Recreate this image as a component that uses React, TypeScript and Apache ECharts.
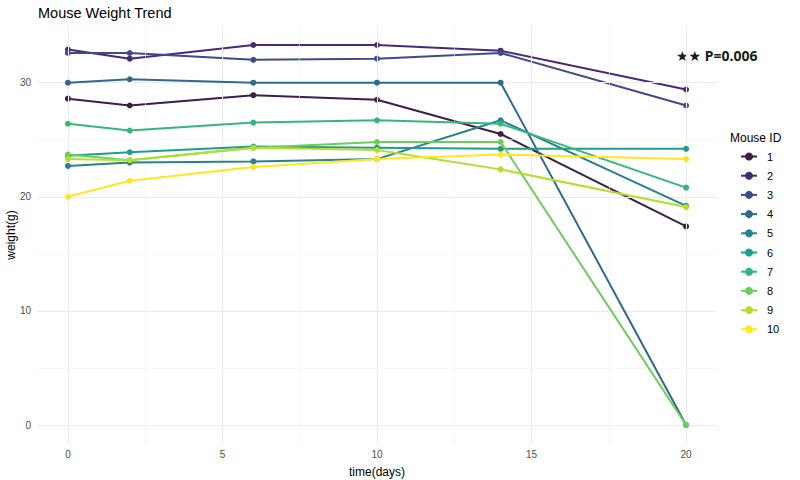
import React, { useEffect, useRef } from "react";
import * as echarts from "echarts";

// Measurement days
const days = [0, 2, 6, 10, 14, 20];

// Body weight (g) per mouse at each measurement day
const mouse1 = [28.6, 28.0, 28.9, 28.5, 25.5, 17.4];
const mouse2 = [32.9, 32.1, 33.3, 33.3, 32.8, 29.4];
const mouse3 = [32.6, 32.6, 32.0, 32.1, 32.6, 28.0];
const mouse4 = [30.0, 30.3, 30.0, 30.0, 30.0, 0];
const mouse5 = [22.7, 23.0, 23.1, 23.3, 26.7, 19.2];
const mouse6 = [23.6, 23.9, 24.4, 24.3, 24.2, 24.2];
const mouse7 = [26.4, 25.8, 26.5, 26.7, 26.4, 20.8];
const mouse8 = [23.7, 23.2, 24.3, 24.8, 24.8, 0];
const mouse9 = [23.3, 23.2, 24.3, 24.1, 22.4, 19.1];
const mouse10 = [20.0, 21.4, 22.6, 23.3, 23.7, 23.3];

const mouseIds = ["1", "2", "3", "4", "5", "6", "7", "8", "9", "10"];
const weights = [mouse1, mouse2, mouse3, mouse4, mouse5, mouse6, mouse7, mouse8, mouse9, mouse10];

const palette = [
  "#3b1f47", "#482878", "#3E4A89", "#31688E", "#26828E",
  "#1F9E89", "#35B779", "#6DCD59", "#B4DE2C", "#FDE725",
];

const xTicks = [0, 5, 10, 15, 20];
const xMinor = [2.5, 7.5, 12.5, 17.5];
const yTicks = [0, 10, 20, 30];
const yMinor = [5, 15, 25];

const FONT = "'Liberation Sans', Arial, Helvetica, sans-serif";

export default function App() {
  const ref = useRef<HTMLDivElement>(null);

  useEffect(() => {
    if (!ref.current) return;
    const chart = echarts.init(ref.current, undefined, { renderer: "svg" });

    const gridLine = (color: string, width: number, data: any[]) => ({
      type: "line",
      data: [],
      silent: true,
      z: 0,
      markLine: {
        silent: true,
        symbol: "none",
        animation: false,
        label: { show: false },
        lineStyle: { color, width, type: "solid" },
        data,
      },
    });

    const series: any[] = [
      gridLine("#EBEBEB", 1.1, [...xTicks.map((v) => ({ xAxis: v })), ...yTicks.map((v) => ({ yAxis: v }))]),
      gridLine("#F2F2F2", 0.6, [...xMinor.map((v) => ({ xAxis: v })), ...yMinor.map((v) => ({ yAxis: v }))]),
    ];

    mouseIds.forEach((id, i) => {
      series.push({
        name: id,
        type: "line",
        data: days.map((d, j) => [d, weights[i][j]]),
        symbol: "circle",
        symbolSize: 6,
        showSymbol: true,
        lineStyle: { width: 2, color: palette[i] },
        itemStyle: { color: palette[i] },
        z: 2 + i,
      });
    });

    chart.setOption({
      animation: false,
      backgroundColor: "#ffffff",
      textStyle: { fontFamily: FONT },
      title: {
        text: "Mouse Weight Trend",
        left: 33,
        top: 0,
        textStyle: { fontFamily: FONT, fontSize: 14.5, fontWeight: "normal", color: "#000" },
      },
      grid: { left: 37, right: 83, top: 26, bottom: 36, containLabel: false, outerBoundsMode: "none" },
      xAxis: {
        type: "value",
        min: -1,
        max: 21,
        name: "time(days)",
        nameLocation: "middle",
        nameGap: 22,
        nameMoveOverlap: false,
        nameTextStyle: { fontFamily: FONT, fontSize: 12, color: "#000" },
        axisLine: { show: false },
        axisTick: { show: false },
        splitLine: { show: false },
        axisLabel: {
          customValues: xTicks,
          color: "#4D4D4D",
          fontSize: 10,
          margin: 5,
          fontFamily: FONT,
        },
      },
      yAxis: {
        type: "value",
        min: -1.665,
        max: 34.965,
        name: "weight(g)",
        nameLocation: "middle",
        nameGap: 20,
        nameRotate: 90,
        nameMoveOverlap: false,
        nameTextStyle: { fontFamily: FONT, fontSize: 12, color: "#000" },
        axisLine: { show: false },
        axisTick: { show: false },
        splitLine: { show: false },
        axisLabel: {
          customValues: yTicks,
          color: "#4D4D4D",
          fontSize: 10,
          margin: 6,
          fontFamily: FONT,
        },
      },
      legend: {
        data: mouseIds,
        orient: "vertical",
        left: 735,
        top: 146,
        itemWidth: 16,
        itemHeight: 10,
        itemGap: 8.2,
        textStyle: { fontFamily: FONT, fontSize: 11, color: "#000", padding: [0, 0, 0, 5] },
      },
      graphic: [
        {
          type: "text",
          left: 730,
          top: 132,
          style: { text: "Mouse ID", font: `12px ${FONT}`, fill: "#000" },
        },
        {
          type: "text",
          x: 676,
          y: 55,
          style: {
            text: "★★ P=0.006",
            font: "bold 14px 'Noto Sans', 'DejaVu Sans', sans-serif",
            fill: "#1a1a1a",
            textVerticalAlign: "middle",
          },
        },
      ],
      series,
    });

    return () => chart.dispose();
  }, []);

  return (
    <div
      ref={ref}
      style={{ position: "absolute", left: 0, top: 0, width: 800, height: 480 }}
    />
  );
}
